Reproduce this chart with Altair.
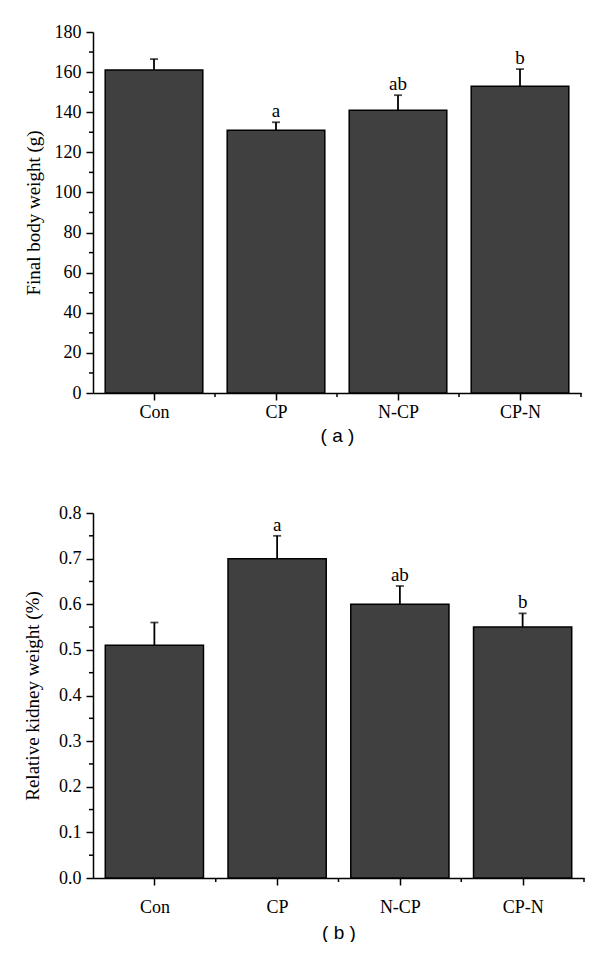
import altair as alt
import pandas as pd

categories = ["Con", "CP", "N-CP", "CP-N"]
weight_mean = [161, 131, 141, 153]
weight_err = [5.5, 4, 7.5, 8.5]
kidney_mean = [0.51, 0.70, 0.60, 0.55]
kidney_err = [0.05, 0.05, 0.04, 0.03]
letters = ["", "a", "ab", "b"]

weight_ticks = [0, 20, 40, 60, 80, 100, 120, 140, 160, 180]
weight_minor = [10, 30, 50, 70, 90, 110, 130, 150, 170]
kidney_ticks = [0.0, 0.1, 0.2, 0.3, 0.4, 0.5, 0.6, 0.7, 0.8]
kidney_minor = [0.05, 0.15, 0.25, 0.35, 0.45, 0.55, 0.65, 0.75]

SERIF = "Liberation Serif"
SANS = "Liberation Sans"


def panel(mean, err, ticks, minor, fmt, ytitle, sub, width, height,
          xlabpad, xtitlepad, ytitlepad):
    n = len(categories)
    df = pd.DataFrame({
        "cat": categories,
        "x0": [i + 0.1 for i in range(n)],
        "x1": [i + 0.9 for i in range(n)],
        "xc": [i + 0.5 for i in range(n)],
        "mean": mean,
        "zero": [0] * n,
        "top": [m + e for m, e in zip(mean, err)],
        "letter": letters,
    })
    label_expr = "[" + ",".join("'%s'" % c for c in categories) + "][floor(datum.value)]"
    xscale = alt.Scale(domain=[0, n], nice=False, zero=False, padding=0)
    yscale = alt.Scale(domain=[ticks[0], ticks[-1]], nice=False, padding=0)
    xaxis = alt.Axis(values=[i + 0.5 for i in range(n)], labelExpr=label_expr,
                     title=sub, grid=False, tickSize=7, labelPadding=xlabpad,
                     titleFont=SANS, titleFontSize=19, titleFontWeight="normal",
                     titlePadding=xtitlepad)
    yaxis = alt.Axis(values=ticks, format=fmt, title=ytitle, grid=False,
                     tickSize=7, labelPadding=5, titlePadding=ytitlepad,
                     titleFont=SERIF, titleFontSize=19, titleFontWeight="normal")
    base = alt.Chart(df)
    bars = base.mark_bar(color="#404040", stroke="black", strokeWidth=1.5).encode(
        x=alt.X("x0:Q", scale=xscale, axis=xaxis),
        x2="x1:Q",
        y=alt.Y("mean:Q", scale=yscale, axis=yaxis),
        y2="zero:Q",
    )
    ebar = base.mark_rule(color="black", strokeWidth=1.8).encode(
        x="xc:Q", y="mean:Q", y2="top:Q")
    cap = base.mark_tick(orient="horizontal", size=8, thickness=1.8, color="black").encode(
        x="xc:Q", y="top:Q")
    text = base.mark_text(font=SERIF, fontSize=19, baseline="alphabetic", dy=-5,
                          color="black").encode(x="xc:Q", y="top:Q", text="letter:N")
    ymin = alt.Chart(pd.DataFrame({"v": minor})).mark_rule(color="black", strokeWidth=1.5).encode(
        y="v:Q", x=alt.value(-4), x2=alt.value(0))
    xmin = alt.Chart(pd.DataFrame({"b": list(range(1, n + 1))})).mark_rule(
        color="black", strokeWidth=1.5).encode(
        x="b:Q", y=alt.value(height), y2=alt.value(height + 4))
    return alt.layer(bars, ebar, cap, text, ymin, xmin).properties(width=width, height=height)


pa = panel(weight_mean, weight_err, weight_ticks, weight_minor, "d",
           "Final body weight (g)", "( a )", 488, 361, 3, 5, 11)
pb = panel(kidney_mean, kidney_err, kidney_ticks, kidney_minor, ".1f",
           "Relative kidney weight (%)", "( b )", 491, 365, 13, 7, 16)

chart = alt.vconcat(pa, pb, spacing=120, bounds="flush").properties(
    padding={"left": 15, "top": 15, "right": 0, "bottom": 0},
).configure_view(stroke=None).configure_axis(
    domainColor="black", domainWidth=1.5, tickColor="black", tickWidth=1.5,
    labelFont=SERIF, labelFontSize=18, labelColor="black", titleColor="black",
)

chart.save("out.html", embed_options={"renderer": "svg", "actions": False})
